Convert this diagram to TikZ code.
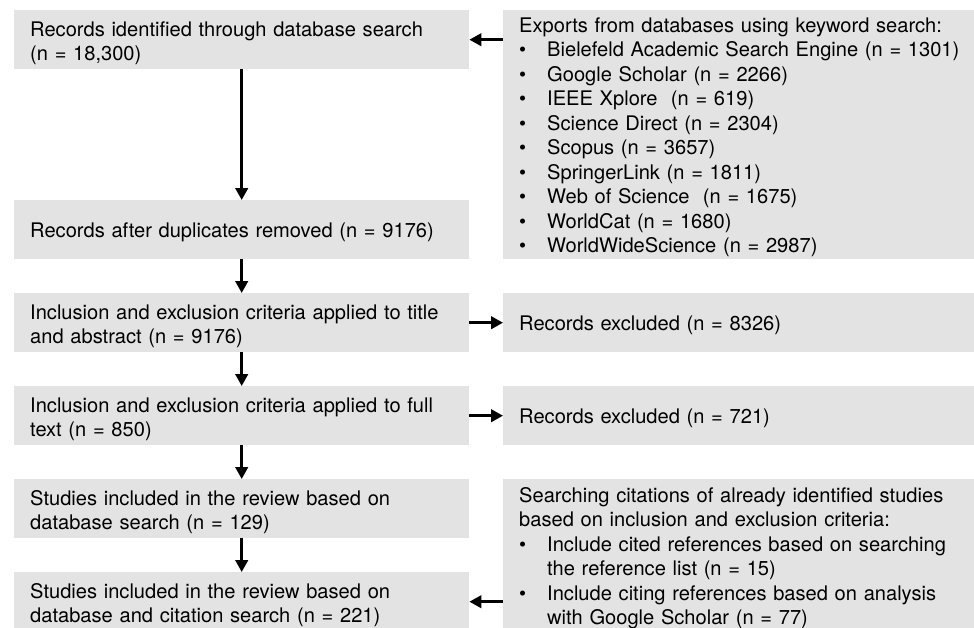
\documentclass[tikz,border=0pt]{standalone}
\usepackage{fontspec}
\setmainfont{TeX Gyre Heros}
\usetikzlibrary{arrows.meta}
\definecolor{boxfill}{RGB}{227,227,227}
% bullet item with hanging indent
\newcommand{\itembul}{\makebox[28pt][l]{\textbullet}}
\newcommand{\itemcont}{\hspace*{28pt}}
\begin{document}
\begin{tikzpicture}[x=1pt,y=-1pt,
  greybox/.style={fill=boxfill, draw=none, inner sep=0pt, anchor=north west, minimum height=#1},
  lpanel/.style={greybox=#1, minimum width=455pt},
  rpanel/.style={greybox=#1, minimum width=471pt},
  txt/.style={anchor=base west, inner sep=0pt, align=left, text width=445pt,
              font=\fontsize{20.1}{24.5}\selectfont, xshift=16pt, yshift=-#1},
  flow/.style={line width=2.7pt, -{Triangle[length=12pt,width=12.5pt]}}]
\path[use as bounding box, clip] (0,0) rectangle (974,627);

% boxes
\node[lpanel=59pt]  (A)  at (14,10)  {};
\node[rpanel=249pt] (E)  at (503,10) {};
\node[lpanel=59pt]  (B)  at (14,200) {};
\node[lpanel=59pt]  (C)  at (14,293) {};
\node[rpanel=59pt]  (X1) at (503,293) {};
\node[lpanel=59pt]  (D)  at (14,386) {};
\node[rpanel=59pt]  (X2) at (503,386) {};
\node[lpanel=59pt]  (F)  at (14,479) {};
\node[rpanel=160pt] (S)  at (503,479) {};
\node[lpanel=59pt]  (G)  at (14,572) {};

% texts
\node[txt=26pt] (tA) at (A.north west) {Records identified through database search\\(n = 18,300)};
\node[txt=22pt] (tE) at (E.north west) {Exports from databases using keyword search:\\
  \itembul Bielefeld Academic Search Engine (n = 1301)\\
  \itembul Google Scholar (n = 2266)\\
  \itembul IEEE Xplore\ \ (n = 619)\\
  \itembul Science Direct (n = 2304)\\
  \itembul Scopus (n = 3657)\\
  \itembul SpringerLink (n = 1811)\\
  \itembul Web of Science\ \ (n = 1675)\\
  \itembul WorldCat (n = 1680)\\
  \itembul WorldWideScience (n = 2987)};
\node[txt=37pt] (tB) at (B.north west) {Records after duplicates removed (n = 9176)};
\node[txt=26pt] (tC) at (C.north west) {Inclusion and exclusion criteria applied to title\\and abstract (n = 9176)};
\node[txt=37pt] (tX1) at (X1.north west) {Records excluded (n = 8326)};
\node[txt=26pt] (tD) at (D.north west) {Inclusion and exclusion criteria applied to full\\text (n = 850)};
\node[txt=37pt] (tX2) at (X2.north west) {Records excluded (n = 721)};
\node[txt=26pt] (tF) at (F.north west) {Studies included in the review based on\\database search (n = 129)};
\node[txt=23pt] (tS) at (S.north west) {Searching citations of already identified studies\\
  based on inclusion and exclusion criteria:\\
  \itembul Include cited references based on searching\\
  \itemcont the reference list (n = 15)\\
  \itembul Include citing references based on analysis\\
  \itemcont with Google Scholar (n = 77)};
\node[txt=26pt] (tG) at (G.north west) {Studies included in the review based on\\database and citation search (n = 221)};

% connectors
\draw[flow] (A) -- (B);
\draw[flow] (B) -- (C);
\draw[flow] (C) -- (D);
\draw[flow] (D) -- (F);
\draw[flow] (F) -- (G);
\draw[flow] (E.west |- A.east) -- (A.east);
\draw[flow] (C) -- (X1);
\draw[flow] (D) -- (X2);
\draw[flow] (S.west |- G.east) -- (G.east);
\end{tikzpicture}
\end{document}
